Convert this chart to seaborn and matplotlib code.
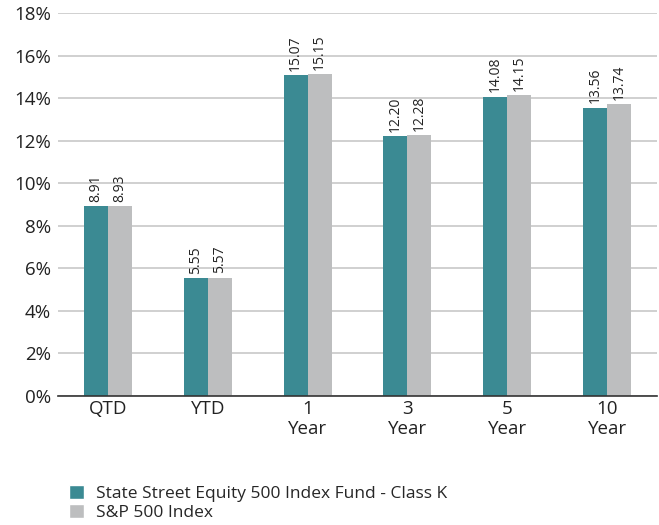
import matplotlib
matplotlib.use("Agg")
import matplotlib.pyplot as plt
import seaborn as sns
import pandas as pd

categories = ["QTD", "YTD", "1\nYear", "3\nYear", "5\nYear", "10\nYear"]
fund_name = "State Street Equity 500 Index Fund - Class K"
index_name = "S&P 500 Index"
fund_values = [8.91, 5.55, 15.07, 12.20, 14.08, 13.56]
index_values = [8.93, 5.57, 15.15, 12.28, 14.15, 13.74]
y_ticks = [0, 2, 4, 6, 8, 10, 12, 14, 16, 18]

df = pd.DataFrame({
    "cat": categories * 2,
    "series": [fund_name] * len(categories) + [index_name] * len(categories),
    "value": fund_values + index_values,
})

sns.set_style("white")
plt.rcParams["font.family"] = ["Open Sans", "DejaVu Sans"]

fig = plt.figure(figsize=(6.59, 5.25), dpi=100)
ax = fig.add_axes([0.088, 0.2457, 0.909, 0.7293])
colors = ["#3b8a93", "#bdbebf"]
sns.barplot(data=df, x="cat", y="value", hue="series", palette=colors,
            width=0.48, gap=0, saturation=1, ax=ax, legend=False,
            linewidth=0, edgecolor="none")

for cont in ax.containers:
    for bar in cont:
        h = bar.get_height()
        ax.annotate(f"{h:.2f}", (bar.get_x() + bar.get_width() / 2, h),
                    xytext=(0, 3), textcoords="offset points",
                    rotation=90, ha="center", va="bottom", fontsize=10, color="#222222")

ax.set_ylim(0, 18)
ax.set_xlim(-0.5, 5.5)
ax.set_yticks(y_ticks)
ax.set_yticklabels([f"{t}%" for t in y_ticks])
ax.yaxis.grid(True, color="#c8c8c8", linewidth=1.2)
ax.set_axisbelow(True)
for s in ["top", "right", "left"]:
    ax.spines[s].set_visible(False)
ax.spines["bottom"].set_color("#333333")
ax.spines["bottom"].set_linewidth(1.2)
ax.set_xlabel("")
ax.set_ylabel("")
ax.tick_params(axis="both", length=0, labelsize=13.5, colors="#222222")
ax.tick_params(axis="y", pad=5)
ax.tick_params(axis="x", pad=3)
for lbl in ax.get_xticklabels():
    lbl.set_linespacing(1.15)

from matplotlib.patches import Patch
handles = [Patch(facecolor=colors[0]), Patch(facecolor=colors[1])]
fig.legend(handles, [fund_name, index_name], loc="upper left",
           bbox_to_anchor=(0.105, 0.076), frameon=False, fontsize=12.5,
           handlelength=0.85, handleheight=0.85, handletextpad=0.7,
           labelspacing=0.1, borderaxespad=0, borderpad=0)

fig.savefig("out.png", dpi=100)
